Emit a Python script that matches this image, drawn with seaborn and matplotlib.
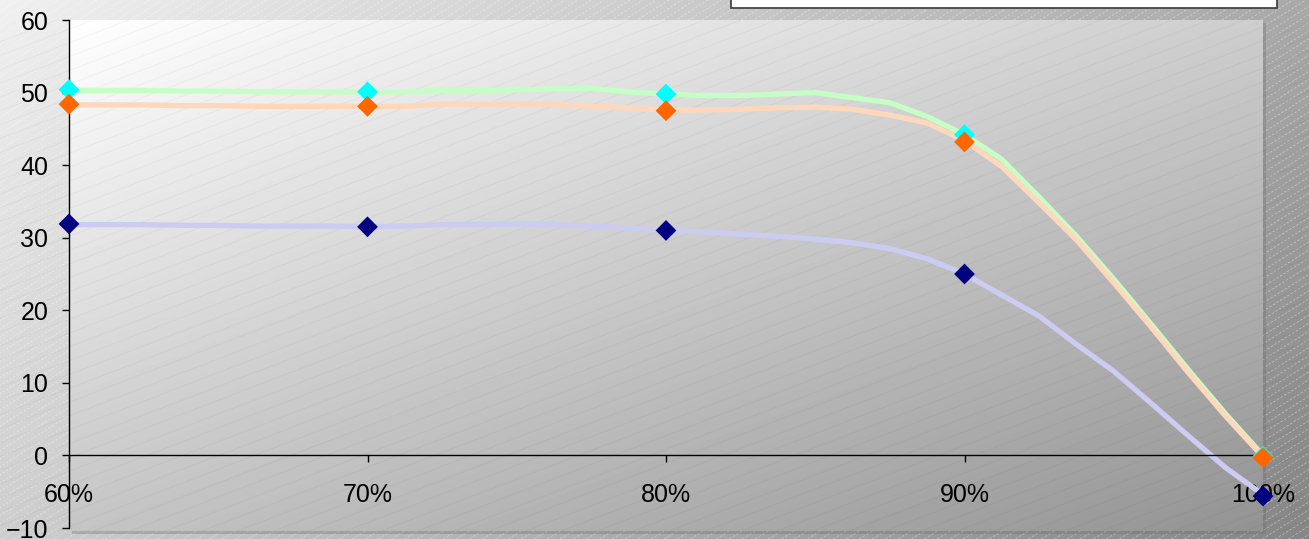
import numpy as np
import matplotlib
matplotlib.use("Agg")
import matplotlib.pyplot as plt
import seaborn as sns
from matplotlib.collections import LineCollection
from matplotlib.patches import Rectangle
from matplotlib.ticker import FuncFormatter

# ---------------- data ----------------
line_x = [0.6, 0.6125, 0.625, 0.6375, 0.65, 0.6625, 0.675, 0.6875, 0.7, 0.7125,
          0.725, 0.7375, 0.75, 0.7625, 0.775, 0.7875, 0.8, 0.8125, 0.825, 0.8375,
          0.85, 0.8625, 0.875, 0.8875, 0.9, 0.9125, 0.925, 0.9375, 0.95, 0.9625,
          0.975, 0.9875, 1.0]
green_line = [50.3, 50.3, 50.3, 50.2, 50.2, 50.1, 50.1, 50.1, 50.1, 50.1,
              50.3, 50.3, 50.4, 50.5, 50.6, 50.1, 49.8, 49.6, 49.6, 49.8,
              50.0, 49.3, 48.6, 46.7, 44.2, 40.8, 35.6, 30.2, 24.3, 18.1,
              11.8, 5.7, 0.0]
peach_line = [48.3, 48.3, 48.3, 48.2, 48.2, 48.1, 48.1, 48.1, 48.1, 48.1,
              48.4, 48.4, 48.4, 48.4, 48.1, 47.9, 47.6, 47.6, 47.7, 47.9,
              48.0, 47.7, 46.9, 45.8, 43.4, 39.8, 34.8, 29.7, 23.8, 17.7,
              11.4, 5.4, -0.2]
lavender_line = [31.8, 31.8, 31.8, 31.7, 31.7, 31.6, 31.6, 31.6, 31.5, 31.6,
                 31.8, 31.8, 31.9, 31.8, 31.6, 31.3, 31.0, 30.8, 30.5, 30.2,
                 29.8, 29.3, 28.5, 27.1, 25.0, 22.1, 19.2, 15.3, 11.6, 7.2,
                 2.7, -1.7, -5.4]

point_x = [0.6, 0.7, 0.8, 0.9, 1.0]
navy_pts = [31.9, 31.5, 31.0, 25.0, -5.6]
cyan_pts = [50.4, 50.1, 49.8, 44.2, -0.1]
orange_pts = [48.4, 48.1, 47.5, 43.2, -0.3]

x_ticks = [0.6, 0.7, 0.8, 0.9, 1.0]
y_ticks = [-10, 0, 10, 20, 30, 40, 50, 60]

# ---------------- style ----------------
sns.set_theme(style="white")
plt.rcParams['font.family'] = ['Liberation Sans', 'DejaVu Sans']

W, H = 1309, 539
L, R, T, B = 69, 1263, 20, 528  # plot area in pixels

fig = plt.figure(figsize=(W / 100, H / 100), dpi=100)

# background axes (decoration)
bg = fig.add_axes([0, 0, 1, 1], zorder=-10)
bg.set_xlim(0, W)
bg.set_ylim(H, 0)
bg.axis('off')
yy, xx = np.mgrid[0:H, 0:W]
outer = 240 - 72 * xx / W - 35 * yy / H
bg.imshow(outer, cmap='gray', vmin=0, vmax=255, extent=(0, W, H, 0),
          aspect='auto', interpolation='bilinear', zorder=0)
# outer diagonal hatch
ang = np.tan(np.radians(32))
segs = []
for x0 in np.arange(-H / ang - 20, W + 20, 13):
    segs.append([(x0, H), (x0 + H / ang, 0)])
bg.add_collection(LineCollection(segs, colors='white', alpha=0.4, lw=0.6,
                                 linestyles=(0, (3, 2)), zorder=1))
# plot-area shadow
bg.add_patch(Rectangle((L + 3, T + 3), R - L, B - T + 3, color='#6f6f6f',
                       alpha=0.35, lw=0, zorder=2))
# plot-area gradient
py, px = np.mgrid[0:(B - T + 3), 0:(R - L)]
u = px / (R - L)
v = py / (B - T)
inner = 255 - 50 * u - 58 * v
bg.imshow(inner, cmap='gray', vmin=0, vmax=255, extent=(L, R, B + 3, T),
          aspect='auto', interpolation='bilinear', zorder=3)
clip = Rectangle((L, T), R - L, B - T + 3, transform=bg.transData, fill=False, lw=0)
bg.add_patch(clip)
ang2 = np.tan(np.radians(21))
segs2 = []
for x0 in np.arange(L - (B - T) / ang2 - 20, R + 20, 36):
    segs2.append([(x0, B + 3), (x0 + (B - T + 3) / ang2, T)])
lc = LineCollection(segs2, colors='black', alpha=0.03, lw=0.8, zorder=4)
lc.set_clip_path(clip)
bg.add_collection(lc)
# legend box (cut off at top)
bg.add_patch(Rectangle((731, -6), 546, 13.5, facecolor='white', edgecolor='#3a3a3a',
                       lw=1.2, zorder=5))

# main axes
ax = fig.add_axes([L / W, 1 - B / H, (R - L) / W, (B - T) / H])
ax.patch.set_visible(False)

sns.lineplot(x=line_x, y=lavender_line, color='#ccccf2', lw=3.8, ax=ax, zorder=2)
sns.lineplot(x=line_x, y=green_line, color='#c6ffc6', lw=3.8, ax=ax, zorder=2)
sns.lineplot(x=line_x, y=peach_line, color='#ffd8bc', lw=3.8, ax=ax, zorder=2)

for vals, col in [(navy_pts, '#000080'), (cyan_pts, '#00ffff'), (orange_pts, '#ff6600')]:
    sns.scatterplot(x=point_x, y=vals, marker='D', s=112, color=col,
                    edgecolor='none', linewidth=0, ax=ax, zorder=5, clip_on=False)

ax.set_xlim(0.6, 1.0)
ax.set_ylim(-10, 60)
ax.set_xticks(x_ticks)
ax.set_yticks(y_ticks)
ax.xaxis.set_major_formatter(FuncFormatter(lambda v, p: f"{v * 100:.0f}%"))

for s in ['top', 'right']:
    ax.spines[s].set_visible(False)
ax.spines['left'].set_color('black')
ax.spines['left'].set_linewidth(1.0)
ax.spines['bottom'].set_color('black')
ax.spines['bottom'].set_linewidth(1.0)
ax.spines['bottom'].set_position(('data', 0))

ax.tick_params(axis='y', left=True, direction='out', length=5, width=1,
               color='black', pad=10, labelsize=18, labelcolor='black')
ax.tick_params(axis='x', bottom=True, direction='out', length=5, width=1,
               color='black', pad=15, labelsize=18, labelcolor='black')
ax.set_xlabel('')
ax.set_ylabel('')
ax.grid(False)

fig.savefig('out.png', dpi=100)
